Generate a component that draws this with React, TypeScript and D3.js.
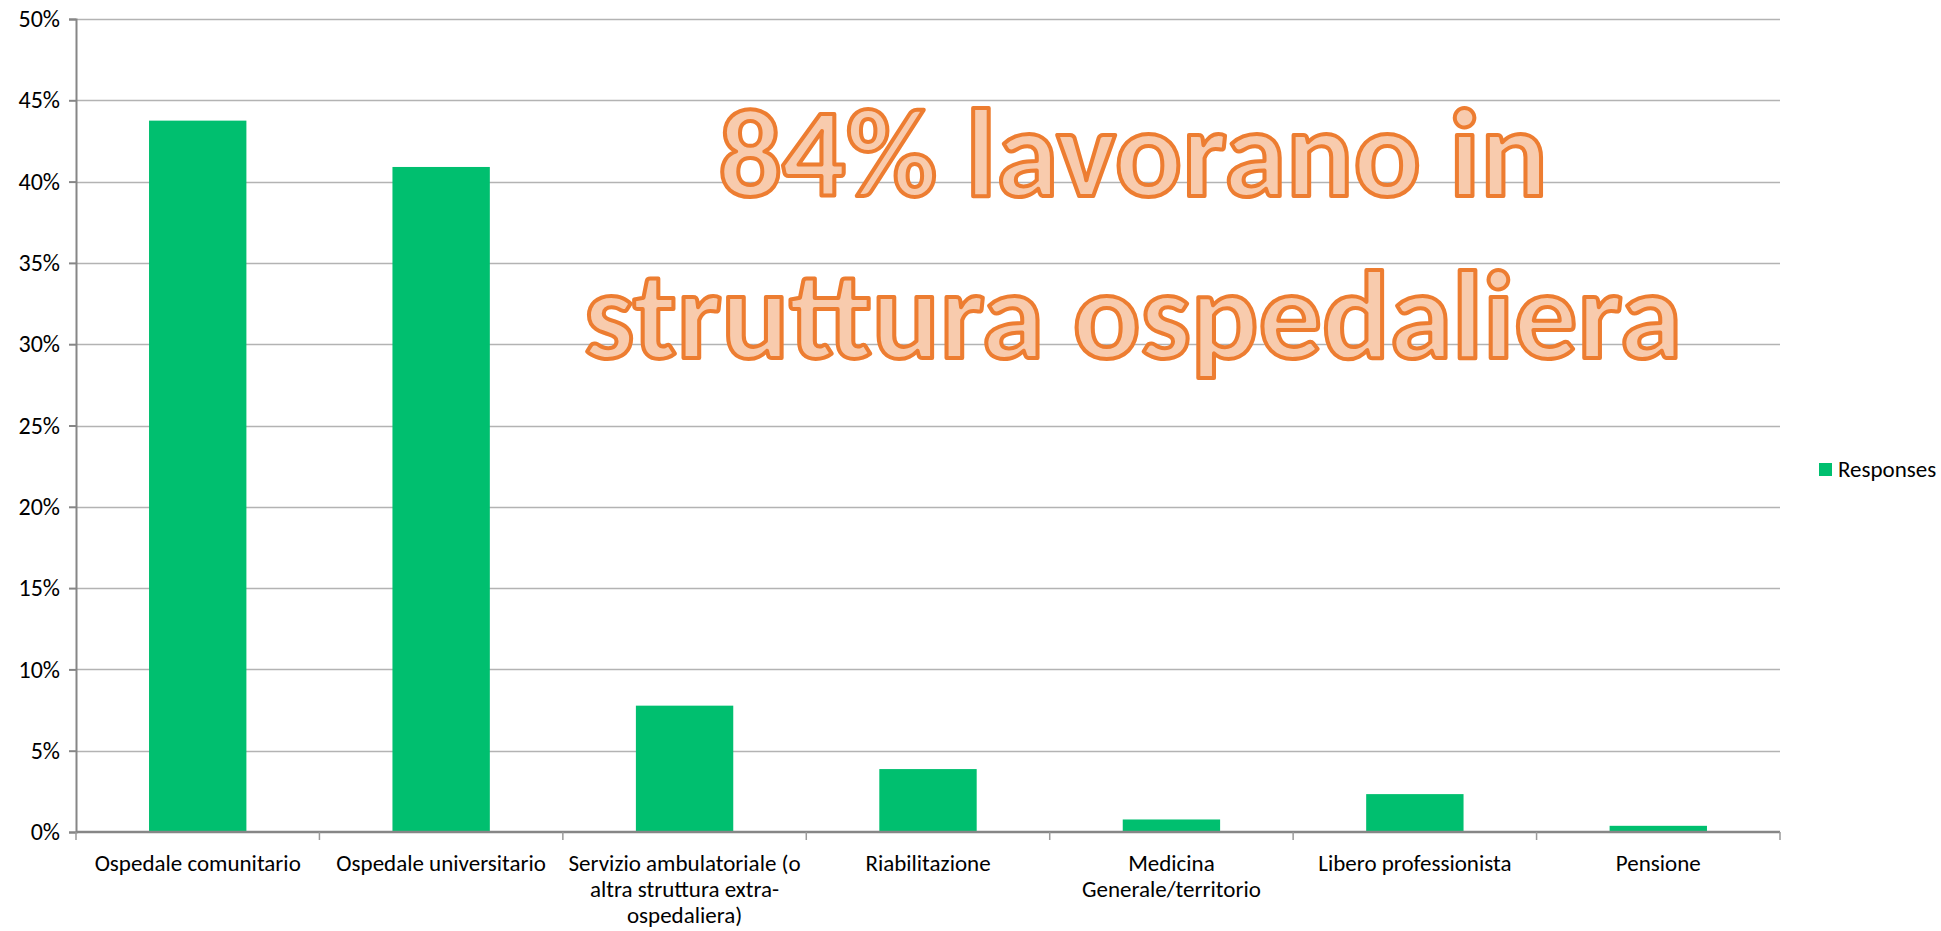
import * as d3 from 'd3';
import React, { useEffect, useRef } from 'react';

// categories (line breaks as in the original labels)
const categories: string[][] = [
  ['Ospedale comunitario'],
  ['Ospedale universitario'],
  ['Servizio ambulatoriale (o', 'altra struttura extra-', 'ospedaliera)'],
  ['Riabilitazione'],
  ['Medicina', 'Generale/territorio'],
  ['Libero professionista'],
  ['Pensione'],
];
const responses: number[] = [0.4375, 0.409, 0.0777, 0.0387, 0.0077, 0.0233, 0.0038];
const yTicks: number[] = [0, 0.05, 0.1, 0.15, 0.2, 0.25, 0.3, 0.35, 0.4, 0.45, 0.5];
const seriesName = 'Responses';
const titleLines: string[] = ['84% lavorano in', 'struttura ospedaliera'];

const W = 1941;
const H = 931;
const margin = { top: 19, right: 161, bottom: 99, left: 76 };
const FONT = 'Carlito, Calibri, Lato, sans-serif';

export default function App() {
  const svgRef = useRef<SVGSVGElement>(null);

  useEffect(() => {
    if (!svgRef.current) return;
    const svg = d3.select(svgRef.current);
    svg.selectAll('*').remove();

    const x = d3.scaleBand<number>()
      .domain(d3.range(categories.length))
      .range([margin.left, W - margin.right])
      .paddingInner(0)
      .paddingOuter(0);
    const y = d3.scaleLinear().domain([0, 0.5]).range([H - margin.bottom, margin.top]);
    const barW = x.bandwidth() * 0.4;

    // gridlines
    svg.append('g')
      .selectAll('line')
      .data(yTicks.filter(d => d > 0))
      .join('line')
      .attr('x1', margin.left)
      .attr('x2', W - margin.right)
      .attr('y1', d => Math.round(y(d)) + 0.5)
      .attr('y2', d => Math.round(y(d)) + 0.5)
      .attr('stroke', '#b3b3b3')
      .attr('stroke-width', 1.5);

    // bars
    svg.append('g')
      .attr('fill', '#00bf6f')
      .selectAll('rect')
      .data(responses)
      .join('rect')
      .attr('x', (d, i) => x(i)! + (x.bandwidth() - barW) / 2)
      .attr('y', d => y(d))
      .attr('width', barW)
      .attr('height', d => y(0) - y(d));

    // y axis
    const yAxis = svg.append('g')
      .attr('transform', `translate(${margin.left},0)`)
      .call(d3.axisLeft(y).tickValues(yTicks).tickFormat(d3.format('.0%')).tickSize(7).tickPadding(9));
    yAxis.selectAll('line, path').attr('stroke', '#868686').attr('stroke-width', 2);
    yAxis.selectAll('text')
      .attr('font-family', FONT)
      .attr('font-size', 24)
      .attr('fill', '#000');

    // x axis
    const y0 = y(0);
    const xAxis = svg.append('g');
    xAxis.append('line')
      .attr('x1', margin.left).attr('x2', W - margin.right)
      .attr('y1', y0).attr('y2', y0)
      .attr('stroke', '#868686').attr('stroke-width', 2.5);
    xAxis.selectAll('line.tick')
      .data(d3.range(categories.length + 1))
      .join('line')
      .attr('class', 'tick')
      .attr('x1', i => i < categories.length ? x(i)! : W - margin.right)
      .attr('x2', i => i < categories.length ? x(i)! : W - margin.right)
      .attr('y1', y0).attr('y2', y0 + 8)
      .attr('stroke', '#9a9a9a').attr('stroke-width', 1.5);
    const labels = xAxis.selectAll('text')
      .data(categories)
      .join('text')
      .attr('x', (d, i) => x(i)! + x.bandwidth() / 2)
      .attr('y', y0 + 39)
      .attr('text-anchor', 'middle')
      .attr('font-family', FONT)
      .attr('font-size', 23)
      .attr('fill', '#000');
    labels.selectAll('tspan')
      .data(d => d)
      .join('tspan')
      .attr('x', function () { return (this.parentNode as SVGTextElement).getAttribute('x'); })
      .attr('dy', (d, i) => (i === 0 ? 0 : 26))
      .text(d => d);

    // legend
    const lg = svg.append('g').attr('transform', 'translate(1819,463)');
    lg.append('rect').attr('width', 13).attr('height', 13).attr('fill', '#00bf6f');
    lg.append('text')
      .attr('x', 19).attr('y', 14)
      .attr('font-family', FONT).attr('font-size', 23)
      .attr('fill', '#000')
      .text(seriesName);

    // overlay title
    const title = svg.append('g')
      .attr('font-family', FONT)
      .attr('font-weight', 'bold')
      .attr('font-size', 125)
      .attr('fill', '#f8cbad')
      .attr('stroke', '#ed7d31')
      .attr('stroke-width', 4)
      .attr('stroke-linejoin', 'round')
      .attr('text-anchor', 'middle');
    const titleWidths = [829, 1098];
    const titleBase = [196, 358];
    title.selectAll('text')
      .data(titleLines)
      .join('text')
      .attr('x', 1133)
      .attr('y', (d, i) => titleBase[i])
      .attr('textLength', (d, i) => titleWidths[i])
      .attr('lengthAdjust', 'spacingAndGlyphs')
      .text(d => d);
  }, []);

  return (
    <svg
      ref={svgRef}
      width={W}
      height={H}
      style={{ position: 'absolute', top: 0, left: 0, background: '#fff' }}
    />
  );
}
